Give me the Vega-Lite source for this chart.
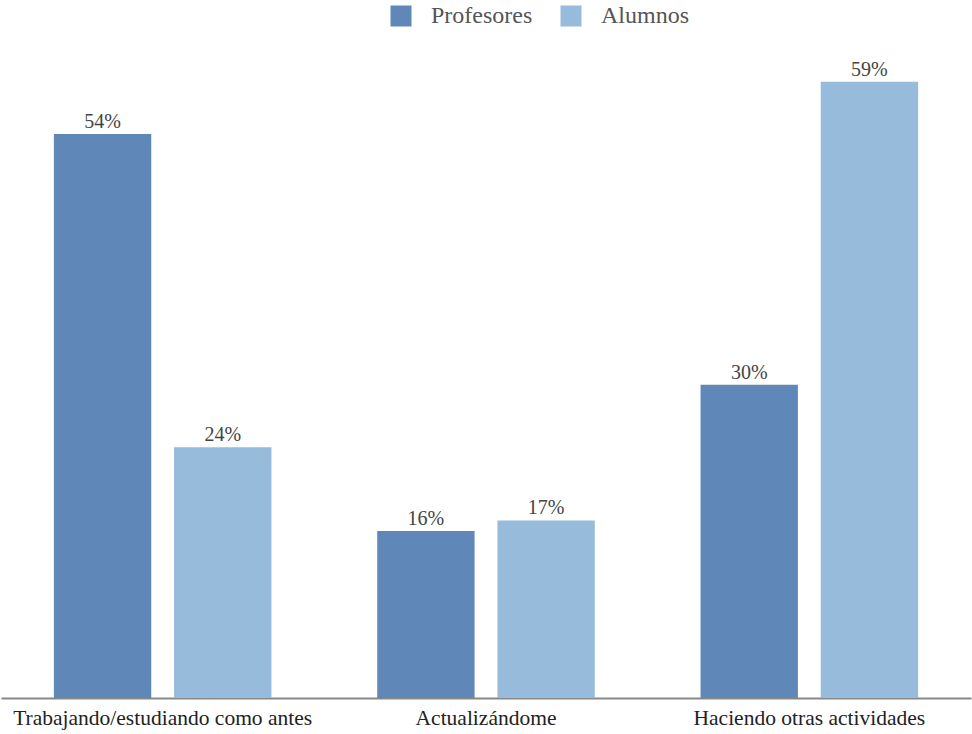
{
  "$schema": "https://vega.github.io/schema/vega-lite/v6.json",
  "width": 970,
  "height": 658,
  "autosize": {"type": "none"},
  "padding": {"left": 1, "top": 40, "right": 1, "bottom": 36},
  "config": {"view": {"stroke": null}, "font": "Liberation Serif", "background": "white"},
  "data": {
    "values": [
      {"cat": "Trabajando/estudiando como antes", "grupo": "Profesores", "v": 54, "label": "54%"},
      {"cat": "Trabajando/estudiando como antes", "grupo": "Alumnos", "v": 24, "label": "24%"},
      {"cat": "Actualizándome", "grupo": "Profesores", "v": 16, "label": "16%"},
      {"cat": "Actualizándome", "grupo": "Alumnos", "v": 17, "label": "17%"},
      {"cat": "Haciendo otras actividades", "grupo": "Profesores", "v": 30, "label": "30%"},
      {"cat": "Haciendo otras actividades", "grupo": "Alumnos", "v": 59, "label": "59%"}
    ]
  },
  "encoding": {
    "x": {
      "field": "cat",
      "type": "nominal",
      "sort": ["Trabajando/estudiando como antes", "Actualizándome", "Haciendo otras actividades"],
      "scale": {"paddingInner": 0, "paddingOuter": 0},
      "axis": {
        "title": null,
        "labelAngle": 0,
        "ticks": false,
        "domainColor": "#888888",
        "domainWidth": 2,
        "labelFontSize": 21.5,
        "labelColor": "#222222",
        "labelPadding": 9,
        "labelLimit": 0,
        "labelFont": "Liberation Serif"
      }
    },
    "xOffset": {
      "field": "grupo",
      "type": "nominal",
      "sort": ["Profesores", "Alumnos"],
      "scale": {"paddingInner": 0.19, "paddingOuter": 0.44}
    },
    "y": {
      "field": "v",
      "type": "quantitative",
      "scale": {"domain": [0, 63]},
      "axis": null
    }
  },
  "layer": [
    {
      "mark": {"type": "bar"},
      "encoding": {
        "color": {
          "field": "grupo",
          "type": "nominal",
          "sort": ["Profesores", "Alumnos"],
          "scale": {"domain": ["Profesores", "Alumnos"], "range": ["#5f88b9", "#96bbdb"]},
          "legend": {
            "title": null,
            "orient": "none",
            "legendX": 388,
            "legendY": -36,
            "direction": "horizontal",
            "symbolType": "square",
            "symbolSize": 441,
            "symbolStrokeWidth": 0,
            "labelFontSize": 24,
            "labelFont": "Liberation Serif",
            "labelColor": "#555555",
            "labelOffset": 18,
            "columnPadding": 26
          }
        }
      }
    },
    {
      "mark": {"type": "text", "baseline": "alphabetic", "dy": -6, "fontSize": 20, "color": "#444444", "font": "Liberation Serif"},
      "encoding": {"text": {"field": "label"}}
    }
  ]
}
